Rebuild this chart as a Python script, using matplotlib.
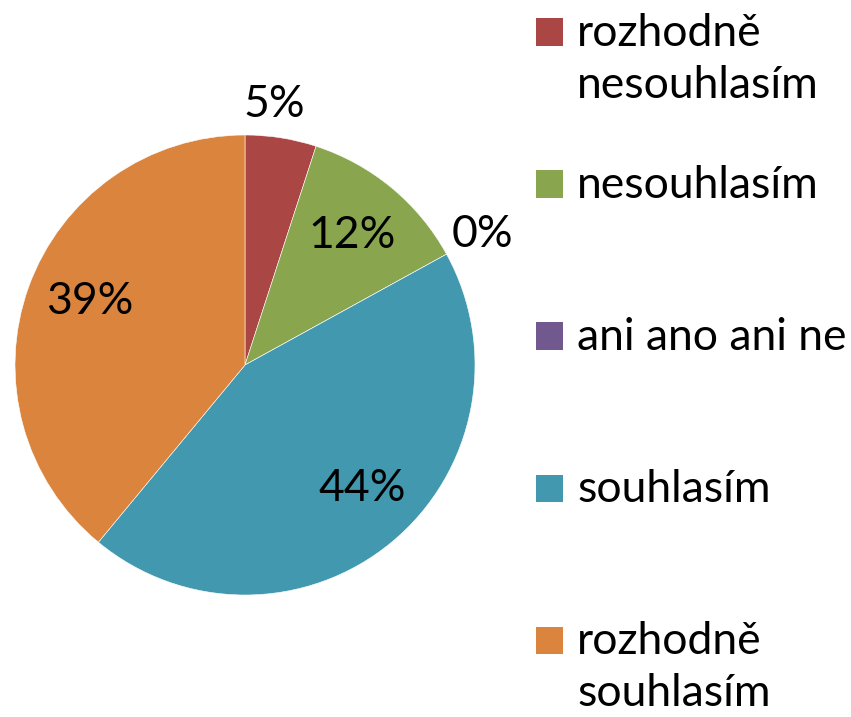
import numpy as np
import matplotlib.pyplot as plt
from matplotlib.patches import Rectangle

labels = ["rozhodně\nnesouhlasím", "nesouhlasím", "ani ano ani ne",
          "souhlasím", "rozhodně\nsouhlasím"]
values = [5, 12, 0, 44, 39]
colors = ["#AA4643", "#89A54E", "#71588F", "#4198AF", "#DB843D"]

# percentage label placement: radius fraction and clockwise nudge (deg)
label_dist = [1.14, 0.73, 1.18, 0.74, 0.73]
label_shift = [-2.6, 0, 0, -4, 2.5]

W, H = 851, 717
plt.rcParams['font.family'] = ['Lato', 'DejaVu Sans']
FS = 32

fig = plt.figure(figsize=(W / 100, H / 100), dpi=100)

# pie centred at (245, 365) px with radius 230 px
cx, cy, r = 245, 365, 230
ax = fig.add_axes([(cx - r) / W, (H - cy - r) / H, 2 * r / W, 2 * r / H])
wedges, _ = ax.pie(values, colors=colors, startangle=90, counterclock=False,
                   wedgeprops=dict(edgecolor="white", linewidth=0.4))
ax.set_xlim(-1, 1)
ax.set_ylim(-1, 1)

for w, v, d, s in zip(wedges, values, label_dist, label_shift):
    ang = np.deg2rad((w.theta1 + w.theta2) / 2 - s)
    ax.text(d * np.cos(ang), d * np.sin(ang), f"{v}%", ha="center",
            va="center", fontsize=FS, color="black", clip_on=False)

# legend on the right, one text per line so the square sits on line one
for i, (lab, col) in enumerate(zip(labels, colors)):
    yc = 32 + 152 * i
    fig.patches.append(Rectangle((536 / W, (H - yc - 13.5) / H), 27 / W, 27 / H,
                                 facecolor=col, edgecolor="none",
                                 transform=fig.transFigure, figure=fig))
    for j, line in enumerate(lab.split("\n")):
        fig.text(577 / W, (H - yc - 14 - 52 * j) / H, line, ha="left",
                 va="baseline", fontsize=FS, color="black")

fig.savefig("out.png", dpi=100)
